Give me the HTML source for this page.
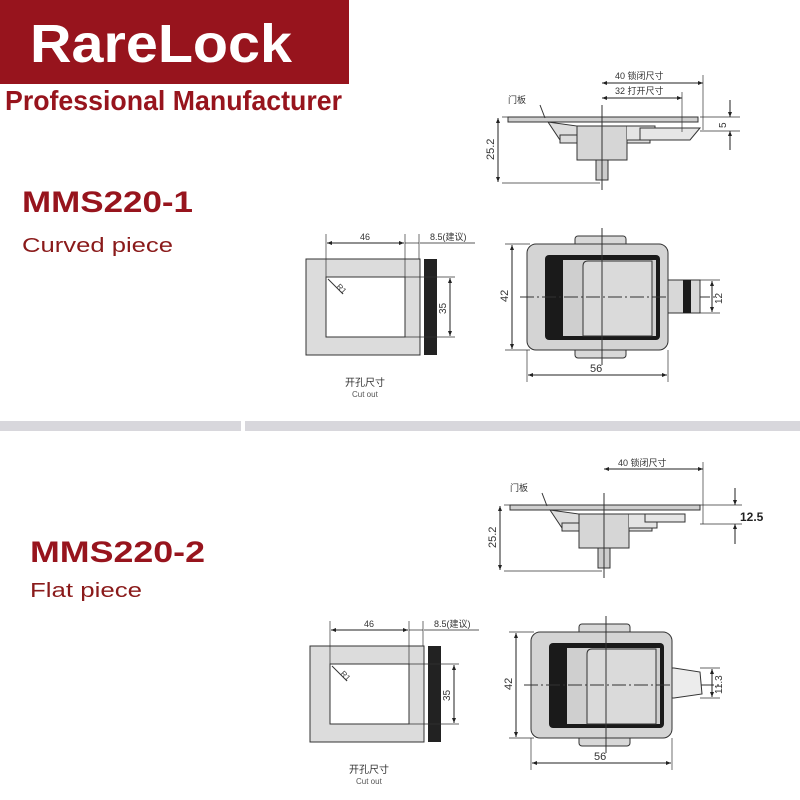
<!DOCTYPE html>
<html><head><meta charset="utf-8"><style>
html,body{margin:0;padding:0;background:#fff;width:800px;height:800px;overflow:hidden}
svg{display:block}
text{font-family:"Liberation Sans","Noto Sans CJK SC",sans-serif}
</style></head><body>
<svg width="800" height="800" viewBox="0 0 800 800" xmlns="http://www.w3.org/2000/svg">
<defs>
<marker id="a" viewBox="0 0 10 10" refX="10" refY="5" markerWidth="7" markerHeight="5" orient="auto-start-reverse"><path d="M0,1 L10,5 L0,9 z" fill="#222"/></marker>
<g id="side">
  <!-- plate -->
  <rect x="508" y="117" width="190" height="5" fill="#cfcfcf" stroke="#333" stroke-width="1"/>
  <path d="M548,122 L560,140 L577,142 L577,126 Z" fill="#ddd" stroke="#333" stroke-width="1"/>
  <rect x="560" y="135" width="90" height="8" fill="#ddd" stroke="#333"/>
  <rect x="577" y="126" width="50" height="34" fill="#d6d6d6" stroke="#333"/>
  <path d="M627,126 L655,126 L655,140 L627,140" fill="#e4e4e4" stroke="#333"/>
  <rect x="596" y="160" width="12" height="20" fill="#ccc" stroke="#333"/>
  <line x1="602" y1="105" x2="602" y2="190" stroke="#333" stroke-width="1"/>
  <line x1="540" y1="105" x2="545" y2="118" stroke="#333"/>
  <text x="508" y="103" font-size="9" fill="#333">门板</text>
  <line x1="502" y1="117" x2="520" y2="117" stroke="#333" stroke-width=".7"/>
  <line x1="502" y1="183" x2="600" y2="183" stroke="#333" stroke-width=".7"/>
  <line x1="498" y1="118" x2="498" y2="182" stroke="#222" marker-start="url(#a)" marker-end="url(#a)"/>
  <text transform="translate(494,160) rotate(-90)" font-size="11" fill="#333">25.2</text>
</g>
<g id="cut">
  <rect x="306" y="259" width="114" height="96" fill="#dcdcdc" stroke="#333"/>
  <rect x="326" y="277" width="79" height="60" fill="#fff" stroke="#333"/>
  <rect x="424" y="259" width="13" height="96" fill="#222"/>
  <line x1="328" y1="279" x2="343" y2="294" stroke="#333"/>
  <text transform="translate(336,287) rotate(45)" font-size="8" fill="#333">R1</text>
  <line x1="326" y1="234" x2="326" y2="277" stroke="#333" stroke-width=".7"/>
  <line x1="405" y1="234" x2="405" y2="277" stroke="#333" stroke-width=".7"/>
  <line x1="419" y1="234" x2="419" y2="259" stroke="#333" stroke-width=".7"/>
  <line x1="327" y1="243" x2="404" y2="243" stroke="#222" marker-start="url(#a)" marker-end="url(#a)"/>
  <line x1="405" y1="243" x2="419" y2="243" stroke="#222" stroke-width=".7"/>
  <line x1="420" y1="243" x2="475" y2="243" stroke="#222" stroke-width=".7"/>
  <text x="360" y="240" font-size="9" fill="#333">46</text>
  <text x="430" y="240" font-size="9" fill="#333">8.5(建议)</text>
  <line x1="405" y1="277" x2="455" y2="277" stroke="#333" stroke-width=".7"/>
  <line x1="405" y1="337" x2="455" y2="337" stroke="#333" stroke-width=".7"/>
  <line x1="450" y1="278" x2="450" y2="336" stroke="#222" marker-start="url(#a)" marker-end="url(#a)"/>
  <text transform="translate(446,314) rotate(-90)" font-size="10" fill="#333">35</text>
  <text x="345" y="386" font-size="10" fill="#333">开孔尺寸</text>
  <text x="352" y="397" font-size="8" fill="#555">Cut out</text>
</g>
<g id="front">
  <rect x="575" y="236" width="51" height="122" rx="3" fill="#d8d8d8" stroke="#333"/>
  <rect x="527" y="244" width="141" height="106" rx="9" fill="#d4d4d4" stroke="#333"/>
  <rect x="545" y="255" width="115" height="85" rx="4" fill="#1a1a1a"/>
  <rect x="563" y="260" width="93" height="76" fill="#cfcfcf"/>
  <path d="M583,336 L583,266 Q583,261 588,261 L652,261 L652,336 Z" fill="#dadada" stroke="#333"/>
  <line x1="602" y1="228" x2="602" y2="365" stroke="#333"/>
  <line x1="520" y1="297" x2="715" y2="297" stroke="#333" stroke-dasharray="14,3,2,3"/>
  <line x1="505" y1="244" x2="530" y2="244" stroke="#333" stroke-width=".7"/>
  <line x1="505" y1="350" x2="530" y2="350" stroke="#333" stroke-width=".7"/>
  <line x1="512" y1="245" x2="512" y2="349" stroke="#222" marker-start="url(#a)" marker-end="url(#a)"/>
  <text transform="translate(508,302) rotate(-90)" font-size="11" fill="#333">42</text>
  <line x1="527" y1="350" x2="527" y2="382" stroke="#333" stroke-width=".7"/>
  <line x1="668" y1="350" x2="668" y2="382" stroke="#333" stroke-width=".7"/>
  <line x1="528" y1="375" x2="667" y2="375" stroke="#222" marker-start="url(#a)" marker-end="url(#a)"/>
  <text x="590" y="372" font-size="11" fill="#333">56</text>
</g>
</defs>

<!-- header -->
<rect x="0" y="0" width="349" height="84" fill="#97141d"/>
<text x="30" y="62" font-size="54" font-weight="bold" fill="#fff" textLength="262" lengthAdjust="spacingAndGlyphs">RareLock</text>
<text x="5" y="110" font-size="28" font-weight="bold" fill="#97141d" textLength="337" lengthAdjust="spacingAndGlyphs">Professional Manufacturer</text>

<text x="22" y="212" font-size="30" font-weight="bold" fill="#97141d" textLength="171" lengthAdjust="spacingAndGlyphs">MMS220-1</text>
<text x="22" y="252" font-size="20" fill="#8a1a1a" textLength="151" lengthAdjust="spacingAndGlyphs">Curved piece</text>
<text x="30" y="562" font-size="30" font-weight="bold" fill="#97141d" textLength="175" lengthAdjust="spacingAndGlyphs">MMS220-2</text>
<text x="30" y="597" font-size="20" fill="#8a1a1a" textLength="112" lengthAdjust="spacingAndGlyphs">Flat piece</text>

<!-- separator -->
<rect x="0" y="421" width="241" height="10" fill="#d8d7dc"/>
<rect x="245" y="421" width="555" height="10" fill="#d8d7dc"/>

<!-- top section -->
<use href="#side"/>
<path d="M640,128 L700,128 L690,140 L640,140 Z" fill="#e6e6e6" stroke="#333"/>
<line x1="602" y1="83" x2="703" y2="83" stroke="#222" marker-start="url(#a)" marker-end="url(#a)"/>
<line x1="703" y1="75" x2="703" y2="130" stroke="#333" stroke-width=".7"/>
<text x="615" y="79" font-size="9" fill="#333">40 锁闭尺寸</text>
<line x1="602" y1="98" x2="682" y2="98" stroke="#222" marker-start="url(#a)" marker-end="url(#a)"/>
<line x1="682" y1="92" x2="682" y2="132" stroke="#333" stroke-width=".7"/>
<text x="615" y="94" font-size="9" fill="#333">32 打开尺寸</text>
<line x1="700" y1="117" x2="740" y2="117" stroke="#333" stroke-width=".7"/>
<line x1="700" y1="131" x2="740" y2="131" stroke="#333" stroke-width=".7"/>
<line x1="730" y1="100" x2="730" y2="117" stroke="#222" marker-end="url(#a)"/>
<line x1="730" y1="150" x2="730" y2="131" stroke="#222" marker-end="url(#a)"/>
<text transform="translate(726,128) rotate(-90)" font-size="10" fill="#333">5</text>
<use href="#cut"/>
<use href="#front"/>
<rect x="668" y="280" width="32" height="33" fill="#d8d8d8" stroke="#333"/>
<rect x="683" y="280" width="8" height="33" fill="#1a1a1a"/>
<line x1="700" y1="280" x2="720" y2="280" stroke="#333" stroke-width=".7"/>
<line x1="700" y1="313" x2="720" y2="313" stroke="#333" stroke-width=".7"/>
<line x1="712" y1="281" x2="712" y2="312" stroke="#222" marker-start="url(#a)" marker-end="url(#a)"/>
<text transform="translate(722,304) rotate(-90)" font-size="10" fill="#333">12</text>

<!-- bottom section -->
<use href="#side" transform="translate(2,388)"/>
<rect x="645" y="514" width="40" height="8" fill="#e6e6e6" stroke="#333"/>
<line x1="604" y1="469" x2="703" y2="469" stroke="#222" marker-start="url(#a)" marker-end="url(#a)"/>
<line x1="703" y1="462" x2="703" y2="524" stroke="#333" stroke-width=".7"/>
<text x="618" y="466" font-size="9" fill="#333">40 锁闭尺寸</text>
<line x1="700" y1="505" x2="742" y2="505" stroke="#333" stroke-width=".7"/>
<line x1="700" y1="524" x2="742" y2="524" stroke="#333" stroke-width=".7"/>
<line x1="735" y1="488" x2="735" y2="505" stroke="#222" marker-end="url(#a)"/>
<line x1="735" y1="544" x2="735" y2="524" stroke="#222" marker-end="url(#a)"/>
<text x="740" y="521" font-size="12" font-weight="bold" fill="#222">12.5</text>
<use href="#cut" transform="translate(4,387)"/>
<use href="#front" transform="translate(4,388)"/>
<path d="M672,668 L674,668 L700,672 L702,694 L674,698 L672,698 Z" fill="#ececec" stroke="#333"/>
<line x1="700" y1="668" x2="720" y2="668" stroke="#333" stroke-width=".7"/>
<line x1="700" y1="698" x2="720" y2="698" stroke="#333" stroke-width=".7"/>
<line x1="712" y1="669" x2="712" y2="697" stroke="#222" marker-start="url(#a)" marker-end="url(#a)"/>
<text transform="translate(722,694) rotate(-90)" font-size="10" fill="#333">11.3</text>
</svg>
</body></html>
